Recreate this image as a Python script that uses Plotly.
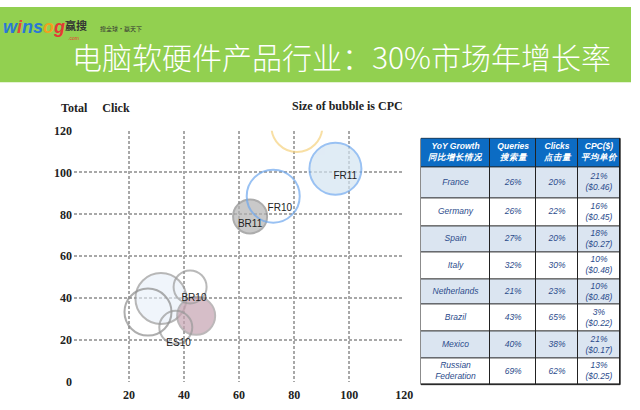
import plotly.graph_objects as go

# bubble chart data
bubble_names = ["", "FR11", "FR10", "BR11", "", "", "", "BR10", "ES10"]
bubble_x = [81, 95, 72.4, 64, 31.6, 26.9, 42.2, 44.4, 37]
bubble_y = [122, 101.8, 88.7, 79, 39.8, 33.3, 45.3, 31.5, 26]
bubble_size = [51, 52, 53, 34, 51, 47, 33, 38, 33]

label_text = ["FR11", "FR10", "BR11", "BR10", "ES10"]
label_x = [98.6, 74.8, 64, 43.6, 38]
label_y = [98, 83, 75, 40, 18.5]

axis_ticks = [0, 20, 40, 60, 80, 100, 120]

# table data
table_header = ["YoY Growth<br>同比增长情况", "Queries<br>搜索量", "Clicks<br>点击量", "CPC($)<br>平均单价"]
countries = ["France", "Germany", "Spain", "Italy", "Netherlands", "Brazil", "Mexico", "Russian<br>Federation"]
queries = ["26%", "26%", "27%", "32%", "21%", "43%", "40%", "69%"]
clicks = ["20%", "22%", "20%", "30%", "23%", "65%", "38%", "62%"]
cpc = ["21%<br>($0.46)", "16%<br>($0.45)", "18%<br>($0.27)", "10%<br>($0.48)",
       "10%<br>($0.48)", "3%<br>($0.22)", "21%<br>($0.17)", "13%<br>($0.25)"]

title = "电脑软硬件产品行业：30%市场年增长率"

W, H = 640, 410


def px(x):
    return x / W


def py(y):
    return (H - y) / H


# styles per bubble (same order as the data)
fills = ["rgba(0,0,0,0)", "#d4e5f1", "rgba(0,0,0,0)", "#b3b3b3", "rgba(232,239,249,0.85)",
         "rgba(0,0,0,0)", "rgba(0,0,0,0)", "#c6a3b1", "rgba(0,0,0,0)"]
edges = ["#f6d27e", "#6ea8ee", "#6ea8ee", "#8a8a8a", "#9a9a9a",
         "#8c8c8c", "#9c9c9c", "#a09a9c", "#9a9a9a"]
order = [1, 3, 4, 7, 0, 2, 5, 6, 8]  # filled ones first, outlines on top

fig = go.Figure()

fig.add_trace(go.Scatter(
    x=[bubble_x[i] for i in order],
    y=[bubble_y[i] for i in order],
    mode="markers",
    marker=dict(
        size=[bubble_size[i] for i in order],
        sizemode="diameter", sizeref=1,
        color=[fills[i] for i in order],
        line=dict(color=[edges[i] for i in order], width=2),
    ),
    hovertext=[bubble_names[i] for i in order],
    showlegend=False,
))

fig.add_trace(go.Scatter(
    x=label_x, y=label_y, text=label_text, mode="text",
    textfont=dict(family="Liberation Sans", size=10, color="#222"),
    showlegend=False,
))

serif = dict(family="Liberation Serif", size=12, color="#222", weight="bold")
grid = dict(showgrid=True, gridcolor="#a8a8a8", griddash="3px,2px", gridwidth=1.5,
            zeroline=False, showline=False, ticks="", tickfont=serif, range=[0, 120])

fig.update_layout(
    xaxis=dict(domain=[px(75), px(410)], tickvals=axis_ticks, ticklabelstandoff=4,
               ticktext=[""] + [str(t) for t in axis_ticks[1:]], **grid),
    yaxis=dict(domain=[py(388), py(128)], tickvals=axis_ticks, ticklabelstandoff=1, **grid),
)

# ---- table, drawn as a heatmap of fills + a text trace on its own axes ----
col_w = [70, 47, 42, 43]
row_h = [30, 32, 29, 27, 28, 26, 28, 28, 27]
col_edges = [sum(col_w[:i]) for i in range(len(col_w) + 1)]
row_edges = [sum(row_h[:i]) for i in range(len(row_h) + 1)]
col_mid = [(col_edges[i] + col_edges[i + 1]) / 2 for i in range(len(col_w))]
row_mid = [(row_edges[i] + row_edges[i + 1]) / 2 for i in range(len(row_h))]

columns = [countries, queries, clicks, cpc]
fill_z = [[0] * 4] + [[1 if r % 2 == 0 else 2] * 4 for r in range(len(countries))]

fig.add_trace(go.Heatmap(
    x=col_edges, y=row_edges, z=fill_z,
    colorscale=[[0, "#0c6cc4"], [0.5, "#dbe5f1"], [1, "#ffffff"]], zmin=0, zmax=2,
    xgap=1, ygap=1, showscale=False, hoverinfo="skip",
    xaxis="x2", yaxis="y2",
))

tx, ty, tt, tc = [], [], [], []
for c in range(4):
    tx.append(col_mid[c]); ty.append(row_mid[0])
    tt.append("<b><i>%s</i></b>" % table_header[c]); tc.append("white")
    for r in range(len(countries)):
        tx.append(col_mid[c]); ty.append(row_mid[r + 1])
        tt.append("<i>%s</i>" % columns[c][r]); tc.append("#2c4c8c")

fig.add_trace(go.Scatter(
    x=tx, y=ty, text=tt, mode="text", xaxis="x2", yaxis="y2",
    textfont=dict(family="Liberation Sans", size=8.5, color=tc),
    hoverinfo="skip", showlegend=False,
))

fig.update_layout(
    xaxis2=dict(domain=[px(427), px(629)], range=[0, col_edges[-1]], anchor="y2",
                showgrid=False, zeroline=False, showticklabels=False, ticks=""),
    yaxis2=dict(domain=[py(391), py(136)], range=[row_edges[-1], 0], anchor="x2",
                showgrid=False, zeroline=False, showticklabels=False, ticks=""),
)

logo = ("<b><i><span style='color:#2a78d6'>w</span><span style='color:#e8453c'>i</span>"
        "<span style='color:#2a78d6'>n</span><span style='color:#2a78d6'>s</span>"
        "<span style='color:#f0a020'>o</span><span style='color:#e53935'>g</span></i></b>")


def note(text, x, y, size, color, family, xanchor="left"):
    return dict(text=text, xref="paper", yref="paper", x=px(x), y=py(y),
                xanchor=xanchor, yanchor="middle", showarrow=False,
                font=dict(family=family, size=size, color=color))


title_note = note(title, 346, 51, 30, "white", "Noto Sans CJK SC", "center")
title_note["font"]["weight"] = 300

fig.update_layout(
    width=W, height=H,
    margin=dict(l=0, r=0, t=0, b=0),
    paper_bgcolor="white", plot_bgcolor="white",
    shapes=[
        dict(type="rect", xref="paper", yref="paper", x0=0, x1=1, y0=py(78), y1=1,
             fillcolor="#92d050", line_width=0, layer="below"),
        dict(type="rect", xref="x2 domain", yref="y2 domain", x0=0, x1=1, y0=0, y1=1,
             fillcolor="#222", line=dict(color="#222", width=1), layer="below"),
    ],
    annotations=[
        title_note,
        note(logo, 1, 21, 18, "#333", "Liberation Sans"),
        note("<b>赢搜</b>", 64, 19, 11, "#333", "Noto Sans CJK SC"),
        note("搜全球·赢天下", 99, 22, 6, "#333", "Noto Sans CJK SC"),
        note(".com", 67, 32, 5, "#e53935", "Liberation Sans"),
        dict(note("Total&nbsp;&nbsp;&nbsp;&nbsp;&nbsp;Click", 60, 105, 12, "#222", "Liberation Serif"),
             font=serif),
        dict(note("Size of bubble is CPC", 411, 102, 12, "#222", "Liberation Serif", "right"),
             font=serif),
    ],
)

# drop the browser's default 8px page margin so the figure fills the window
fig.write_html("out.html", config={"displayModeBar": False},
               post_script="document.body.style.margin='0';")
